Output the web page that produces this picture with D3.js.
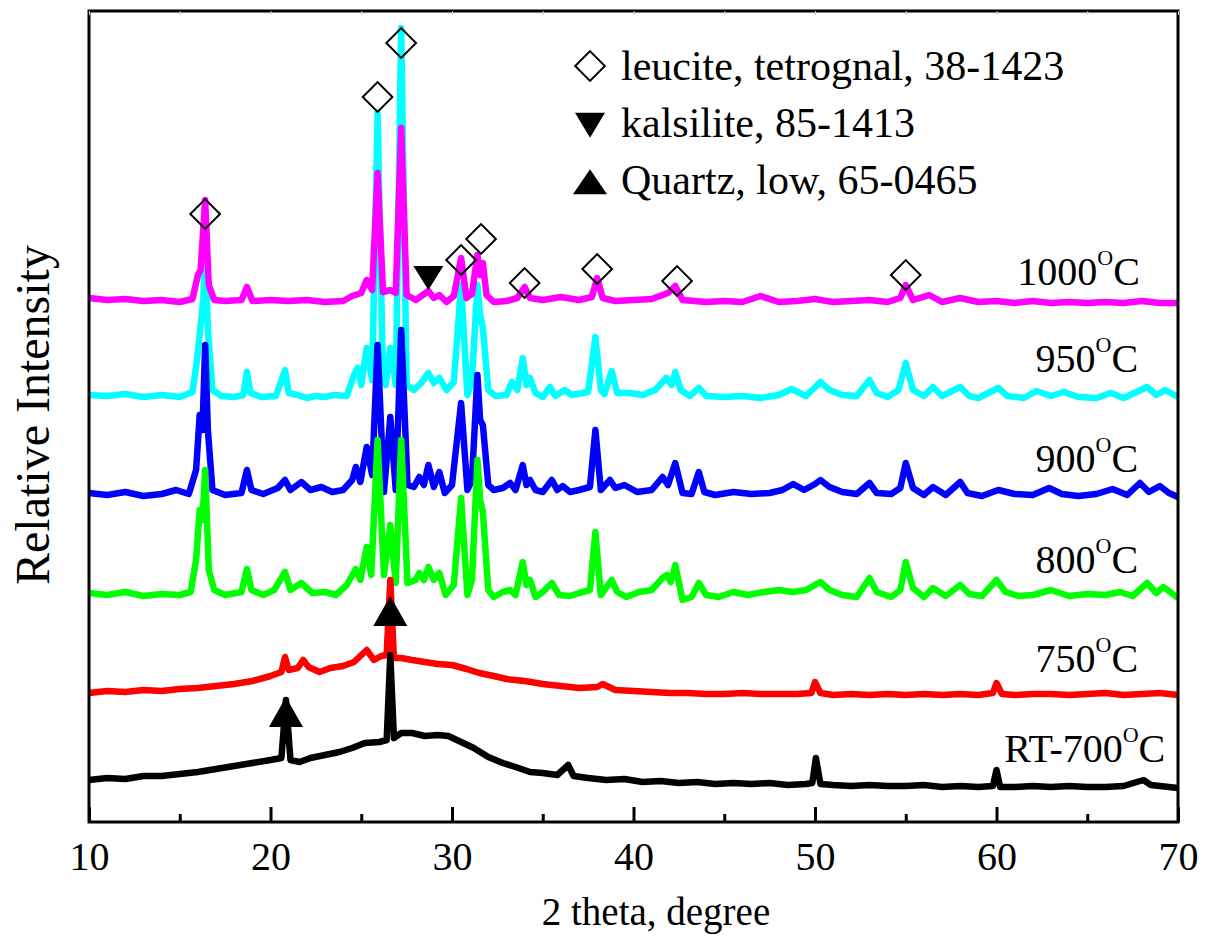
<!DOCTYPE html>
<html>
<head>
<meta charset="utf-8">
<script src="https://cdn.jsdelivr.net/npm/d3@7"></script>
<style>
  body { margin: 0; background: #fff; }
  svg text { font-family: "Liberation Serif", "Times New Roman", serif; fill: #000; }
</style>
</head>
<body>
<div id="main"></div>
<script>
// [2theta, intensity above own baseline]
const rt700 = [[10,2],[11,4],[12,3],[13,6],[14,6],[15,8],[16,10],[17,13],[18,16],[19,19],[20,22],[20.6,24],[20.85,82],[21.1,22],[21.6,20],[22.2,24],[23,27],[23.8,30],[24.5,34],[25.2,39],[26,40],[26.4,42],[26.6,127],[26.8,44],[27.2,49],[27.8,49],[28.5,46],[29.2,47],[29.8,46],[30.5,40],[31.2,34],[32,25],[32.8,19],[33.5,15],[34.3,10],[35,9],[35.8,7],[36.4,17],[36.7,6],[37.5,4],[38.5,2],[39.5,3],[40.5,0],[41.5,1],[42.5,-1],[43.5,0],[44.5,-2],[45.5,-1],[46.5,-2],[47.5,-1],[48.5,-3],[49.5,-2],[49.85,-1],[50.05,24],[50.3,-2],[51,-3],[52,-4],[53,-3],[54,-4],[55,-4],[56,-3],[57,-5],[58,-4],[59,-5],[59.8,-4],[60,12],[60.2,-5],[61,-5],[62,-4],[63,-5],[64,-4],[65,-5],[66,-5],[67,-4],[68.1,2],[68.5,-3],[69,-4],[70,-6]];

const t750 = [[10,-1],[11,1],[12,0],[13,2],[14,1],[15,3],[16,4],[17,6],[18,8],[19,11],[20,16],[20.6,20],[20.8,35],[21,22],[21.5,24],[21.8,32],[22.1,25],[22.7,20],[23.3,24],[24,26],[24.6,30],[25.3,42],[25.7,32],[26.1,36],[26.4,37],[26.6,112],[26.8,34],[27.2,34],[27.8,32],[28.5,30],[29.2,28],[30,27],[30.8,23],[31.5,19],[32.3,16],[33,13],[34,11],[35,8],[36,6],[37,4],[38,5],[38.3,8],[39,2],[40,1],[41,0],[42,-1],[43,-1],[44,-2],[45,-2],[46,-1],[47,-2],[48,-2],[49,-2],[49.8,-1],[50,10],[50.3,-1],[51,-3],[52,-2],[53,-3],[54,-2],[55,-3],[56,-2],[57,-3],[58,-2],[59,-3],[59.8,-1],[60,9],[60.3,-2],[61,-3],[62,-2],[63,-2],[64,-3],[65,-2],[66,-1],[67,-3],[68,-2],[69,-1],[70,-3]];

const t800 = [[10,2],[11,0],[12,3],[13,-1],[14,1],[15,0],[15.6,3],[15.9,35],[16.1,85],[16.25,75],[16.4,125],[16.6,25],[16.9,5],[17.5,0],[18.4,3],[18.7,26],[18.95,5],[19.6,0],[20.2,5],[20.8,23],[21.1,5],[21.7,12],[22.3,2],[23,3],[23.6,0],[24.2,10],[24.7,26],[24.95,15],[25.3,48],[25.55,20],[25.9,155],[26.25,20],[26.6,70],[26.9,12],[27.2,155],[27.55,12],[28,15],[28.2,22],[28.45,15],[28.7,28],[29,15],[29.3,22],[29.65,0],[30.1,10],[30.5,97],[30.85,0],[31.1,15],[31.4,135],[31.55,95],[31.7,83],[32,5],[32.3,-2],[32.8,3],[33.2,5],[33.5,0],[33.9,33],[34.1,10],[34.3,15],[34.6,-2],[35,3],[35.5,12],[35.9,0],[36.5,-1],[37,2],[37.6,5],[37.9,63],[38.2,0],[38.8,15],[39.1,3],[39.6,-2],[40.3,3],[41,5],[41.6,17],[41.85,20],[42.05,13],[42.3,30],[42.7,-5],[43.2,-2],[43.6,12],[44,0],[44.7,-2],[45.5,3],[46.3,0],[47.2,3],[48,5],[48.8,3],[49.5,5],[50.3,13],[50.8,5],[51.5,0],[52.3,-2],[53,17],[53.4,3],[54.2,-2],[54.7,5],[55,33],[55.4,7],[56,-2],[56.5,7],[57.2,-1],[58,10],[58.5,1],[59.2,-1],[60,15],[60.5,3],[61.2,-1],[62,0],[63,5],[64,-1],[65,1],[66,0],[66.8,3],[67.5,-1],[68.3,12],[68.8,2],[69.2,8],[70,-3]];

const t900 = [[10,2],[11,0],[12,3],[13,-1],[14,1],[14.8,5],[15.5,1],[15.9,25],[16.1,80],[16.25,65],[16.4,150],[16.55,65],[16.8,5],[17.5,0],[18.4,2],[18.7,25],[18.95,5],[19.6,1],[20.4,7],[20.8,15],[21.1,5],[21.7,13],[22.2,5],[22.8,8],[23.4,3],[24,5],[24.5,15],[24.7,28],[24.95,13],[25.3,48],[25.6,20],[25.9,150],[26.25,3],[26.6,78],[26.9,5],[27.2,165],[27.55,10],[27.9,8],[28.2,18],[28.45,10],[28.7,30],[29,8],[29.3,23],[29.6,2],[30,10],[30.5,92],[30.85,5],[31.1,15],[31.4,120],[31.55,75],[31.7,70],[32,10],[32.3,5],[32.8,7],[33.2,12],[33.5,5],[33.9,30],[34.1,10],[34.3,15],[34.6,5],[35,3],[35.5,15],[35.8,5],[36.1,9],[36.5,3],[37,5],[37.6,8],[37.9,65],[38.2,5],[38.7,15],[39,7],[39.5,10],[40.2,3],[41,5],[41.6,18],[41.9,10],[42.3,32],[42.7,2],[43.2,1],[43.6,23],[43.9,3],[44.5,0],[45.5,3],[46.5,1],[47.5,2],[48.2,5],[48.8,11],[49.4,5],[50,11],[50.3,15],[50.8,8],[51.5,3],[52.3,1],[53,12],[53.4,2],[54.2,1],[54.7,7],[55,32],[55.4,7],[56,0],[56.5,8],[57.2,0],[58,13],[58.4,2],[59.2,-1],[60.1,5],[61,1],[62,0],[62.9,7],[63.6,1],[64.5,-1],[65.5,1],[66.4,6],[67.2,0],[67.9,12],[68.4,3],[69,9],[69.5,2],[70,-2]];

const t950 = [[10,2],[11,1],[12,3],[13,0],[14,2],[15,0],[15.7,5],[15.95,37],[16.15,72],[16.3,97],[16.4,157],[16.55,67],[16.8,7],[17.3,1],[18,0],[18.5,2],[18.7,25],[18.9,4],[19.5,0],[20.3,1],[20.8,27],[21,4],[21.5,2],[22,-1],[22.5,1],[23,0],[23.5,2],[24.2,1],[24.6,22],[24.8,29],[25,12],[25.3,49],[25.6,17],[25.9,284],[26.2,17],[26.35,12],[26.6,49],[26.9,12],[27.2,369],[27.5,12],[27.9,7],[28.3,14],[28.7,24],[29,14],[29.3,19],[29.7,7],[30.1,15],[30.5,112],[30.85,2],[31.1,17],[31.4,112],[31.55,82],[31.7,69],[32,7],[32.4,1],[33,2],[33.3,15],[33.6,7],[33.9,39],[34.1,12],[34.3,19],[34.6,4],[35,0],[35.4,10],[35.7,1],[36.2,7],[36.6,2],[37.5,5],[37.9,60],[38.2,7],[38.4,3],[38.8,26],[39.1,4],[39.8,4],[40.5,2],[41.2,7],[41.8,19],[42.1,12],[42.3,25],[42.6,7],[43.1,1],[43.6,9],[44,1],[45,0],[46,1],[47,-1],[48,2],[48.7,8],[49.5,1],[50.3,15],[50.8,7],[51.5,2],[52.3,1],[53,17],[53.4,4],[54,0],[54.6,7],[55,34],[55.4,7],[56,1],[56.5,10],[57,1],[58,10],[58.5,1],[59,-1],[60.1,9],[60.6,1],[61.5,-1],[62.2,6],[63,1],[63.7,5],[64.5,0],[65.5,-1],[66.3,4],[67,-1],[67.6,4],[68.3,10],[68.8,2],[69.3,7],[70,0]];

const t1000 = [[10,4],[11,2],[12,3],[13,1],[14,2],[15,0],[15.7,3],[16,27],[16.15,32],[16.4,102],[16.6,17],[16.9,2],[17.5,1],[18.4,2],[18.7,15],[19,1],[20,2],[21,1],[22,2],[23,0],[24,1],[24.5,6],[25,9],[25.3,22],[25.6,12],[25.9,129],[26.2,10],[26.6,12],[26.9,9],[27.2,174],[27.5,7],[28,2],[28.7,11],[29,4],[29.3,7],[29.7,0],[30.1,6],[30.5,44],[30.8,4],[31.1,8],[31.4,47],[31.55,27],[31.7,39],[31.9,7],[32.3,0],[33,1],[33.6,4],[34,15],[34.3,4],[35,2],[36,5],[37,2],[37.7,5],[38,24],[38.3,4],[39,1],[40,2],[41,3],[41.9,9],[42.3,16],[42.7,2],[44,0],[45,1],[46,0],[47,6],[48,0],[49,1],[50,3],[51,0],[52,1],[53,2],[54,0],[54.7,4],[55,17],[55.4,2],[56.3,7],[57,0],[58,4],[59,0],[60,1],[61,-1],[62,1],[63,-1],[64,0],[65,-1],[66,0],[67,-1],[68,1],[69,-1],[70,-1]];

// stacking offsets and labels
const names = ["RT-700", "750", "800", "900", "950", "1000"];
const offsets = [40, 130, 227, 327, 425, 520];
const colors = ["#000000", "#ff0000", "#00ff00", "#0000ff", "#00ffff", "#ff00ff"];
const seriesData = [rt700, t750, t800, t900, t950, t1000];
const labelPos = [[69.3, 60], [67.8, 150], [67.8, 249], [67.8, 350], [67.8, 450], [67.9, 537]];

// phase markers [2theta, intensity]
const leucite = [[16.4, 608], [25.9, 725], [27.2, 779], [30.5, 562], [31.6, 583], [34.0, 539], [38.0, 553], [42.4, 541], [55.0, 547]];
const kalsilite = [[28.7, 548]];
const quartz = [[20.85, 105], [26.6, 206]];

const legendItems = ["leucite, tetrognal, 38-1423", "kalsilite, 85-1413", "Quartz, low, 65-0465"];
const majorTicks = [10, 20, 30, 40, 50, 60, 70];
const minorTicks = [15, 25, 35, 45, 55, 65];

const width = 1207, height = 944;
const mLeft = 89, mRight = 1178, mTop = 11, mBottom = 822;

const svg = d3.select('#main').append('svg')
    .attr('width', width)
    .attr('height', height);

const x = d3.scaleLinear().domain([10, 70]).range([mLeft, mRight]);
const y = d3.scaleLinear().domain([0, 811]).range([mBottom, mTop]);

// draw order roughly as in the figure
const order = [4, 3, 2, 1, 0, 5];
const line = d3.line().x(d => x(d[0])).y(d => y(d[1]));

order.forEach(i => {
    const pts = seriesData[i].map(d => [d[0], d[1] + offsets[i]]);
    svg.append('path')
        .datum(pts)
        .attr('d', line)
        .attr('fill', 'none')
        .attr('stroke', colors[i])
        .attr('stroke-width', 6.5)
        .attr('stroke-linejoin', 'round');
});

// markers
const diamond = d3.symbol().type(d3.symbolSquare).size(440);
svg.selectAll('.leu')
    .data(leucite)
    .enter()
    .append('path')
    .attr('d', diamond)
    .attr('transform', d => `translate(${x(d[0])},${y(d[1])}) rotate(45)`)
    .attr('fill', 'none')
    .attr('stroke', '#000')
    .attr('stroke-width', 2);

const tri = (w, h, down) => down
    ? `M${-w/2},${-h/3}L${w/2},${-h/3}L0,${2*h/3}Z`
    : `M${-w/2},${h/3}L${w/2},${h/3}L0,${-2*h/3}Z`;

svg.selectAll('.kal')
    .data(kalsilite)
    .enter()
    .append('path')
    .attr('d', tri(30, 24, true))
    .attr('transform', d => `translate(${x(d[0])},${y(d[1])})`)
    .attr('fill', '#000');

svg.selectAll('.qtz')
    .data(quartz)
    .enter()
    .append('path')
    .attr('d', tri(34, 30, false))
    .attr('transform', d => `translate(${x(d[0])},${y(d[1])})`)
    .attr('fill', '#000');

// series labels
names.forEach((n, i) => {
    const t = svg.append('text')
        .attr('x', x(labelPos[i][0]))
        .attr('y', y(labelPos[i][1]))
        .attr('text-anchor', 'end')
        .style('font-size', '40px');
    t.append('tspan').text(n);
    t.append('tspan').attr('dy', -20).style('font-size', '22px').text('O');
    t.append('tspan').attr('dy', 20).text('C');
});

// frame
svg.append('rect')
    .attr('x', mLeft).attr('y', mTop)
    .attr('width', mRight - mLeft).attr('height', mBottom - mTop)
    .attr('fill', 'none')
    .attr('stroke', '#000')
    .attr('stroke-width', 3);

// bottom axis
const xAxis = d3.axisBottom(x).tickValues(majorTicks).tickSizeInner(-15).tickSizeOuter(0).tickPadding(20);
const gx = svg.append('g')
    .attr('transform', `translate(0,${mBottom})`)
    .call(xAxis);
gx.select('.domain').remove();
gx.selectAll('line').attr('stroke-width', 3);
gx.selectAll('text').style('font-size', '40px').style('font-family', '"Liberation Serif", "Times New Roman", serif');

const xMinor = d3.axisBottom(x).tickValues(minorTicks).tickSizeInner(-8).tickSizeOuter(0).tickFormat('');
const gm = svg.append('g')
    .attr('transform', `translate(0,${mBottom})`)
    .call(xMinor);
gm.select('.domain').remove();
gm.selectAll('line').attr('stroke-width', 3);

// faint top ticks
const xTop = d3.axisTop(x).tickValues(majorTicks.concat(minorTicks)).tickSizeInner(-4).tickSizeOuter(0).tickFormat('');
const gt = svg.append('g')
    .attr('transform', `translate(0,${mTop})`)
    .call(xTop);
gt.select('.domain').remove();
gt.selectAll('line').attr('stroke', '#ccc').attr('stroke-width', 1);

// axis titles
svg.append('text')
    .attr('x', 656)
    .attr('y', 925)
    .attr('text-anchor', 'middle')
    .style('font-size', '39px')
    .text('2 theta, degree');

svg.append('text')
    .attr('transform', `translate(49, 415) rotate(-90)`)
    .attr('text-anchor', 'middle')
    .style('font-size', '48px')
    .text('Relative Intensity');

// legend
const legend = svg.append('g').attr('id', 'legend');
const rowY = [66, 123, 180];
legend.append('path')
    .attr('d', diamond)
    .attr('transform', `translate(590,${rowY[0]}) rotate(45)`)
    .attr('fill', 'none').attr('stroke', '#000').attr('stroke-width', 2);
legend.append('path')
    .attr('d', tri(30, 25, true))
    .attr('transform', `translate(590,${rowY[1] - 2})`)
    .attr('fill', '#000');
legend.append('path')
    .attr('d', tri(34, 25, false))
    .attr('transform', `translate(590,${rowY[2] + 6})`)
    .attr('fill', '#000');
legend.selectAll('.legend-label')
    .data(legendItems)
    .enter()
    .append('text')
    .attr('class', 'legend-label')
    .attr('x', 621)
    .attr('y', (d, i) => rowY[i] + 14)
    .style('font-size', '42px')
    .text(d => d);
</script>
</body>
</html>
